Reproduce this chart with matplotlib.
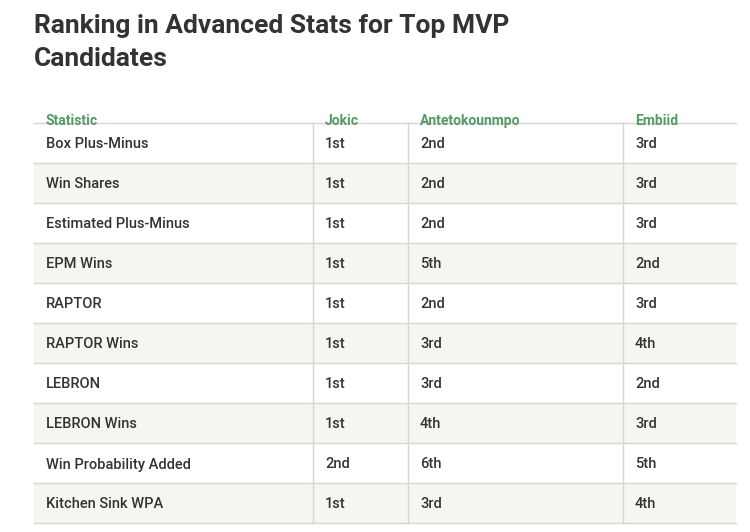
import matplotlib.pyplot as plt
from matplotlib.patches import Rectangle

# table content
title = "Ranking in Advanced Stats for Top MVP\nCandidates"
columns = ["Statistic", "Jokic", "Antetokounmpo", "Embiid"]
stats = ["Box Plus-Minus", "Win Shares", "Estimated Plus-Minus", "EPM Wins", "RAPTOR",
         "RAPTOR Wins", "LEBRON", "LEBRON Wins", "Win Probability Added", "Kitchen Sink WPA"]
jokic = ["1st", "1st", "1st", "1st", "1st", "1st", "1st", "1st", "2nd", "1st"]
giannis = ["2nd", "2nd", "2nd", "5th", "2nd", "3rd", "3rd", "4th", "6th", "3rd"]
embiid = ["3rd", "3rd", "3rd", "2nd", "3rd", "4th", "2nd", "3rd", "5th", "4th"]

W, H = 750, 532
fig = plt.figure(figsize=(W / 100, H / 100), dpi=100)
ax = fig.add_axes([0, 0, 1, 1])
ax.set_xlim(0, W)
ax.set_ylim(H, 0)
ax.axis("off")

font = "Roboto"
left, right = 34, 736
col_x = [34, 313, 408, 623]
text_pad = 12
head_top, head_bot = 88, 123
row_h = 40

ax.text(34, 24, "Ranking in Advanced Stats for Top MVP", fontsize=19, fontweight="bold",
        color="#333333", family=font, va="center_baseline")
ax.text(34, 57, "Candidates", fontsize=19, fontweight="bold",
        color="#333333", family=font, va="center_baseline")

for x, c in zip(col_x, columns):
    ax.text(x + text_pad, (head_top + head_bot) / 2 + 14, c, fontsize=10, fontweight="bold",
            color="#4f9d63", family=font, va="center_baseline")

rows = list(zip(stats, jokic, giannis, embiid))
for i, row in enumerate(rows):
    y0 = head_bot + i * row_h
    if i % 2 == 1:
        ax.add_patch(Rectangle((left, y0), right - left, row_h, color="#f6f5ef", lw=0))
    ax.plot([left, right], [y0, y0], color="#d6d6d6", lw=1)
    for x, v in zip(col_x, row):
        ax.text(x + text_pad, y0 + row_h / 2, v, fontsize=10.5, fontweight="medium",
                color="#333333", family=font, va="center_baseline")
ax.plot([left, right], [head_bot + len(rows) * row_h] * 2, color="#d6d6d6", lw=1)
for x in col_x[1:]:
    ax.plot([x, x], [head_bot, head_bot + len(rows) * row_h], color="#d6d6d6", lw=1)

fig.savefig("out.png", dpi=100)
